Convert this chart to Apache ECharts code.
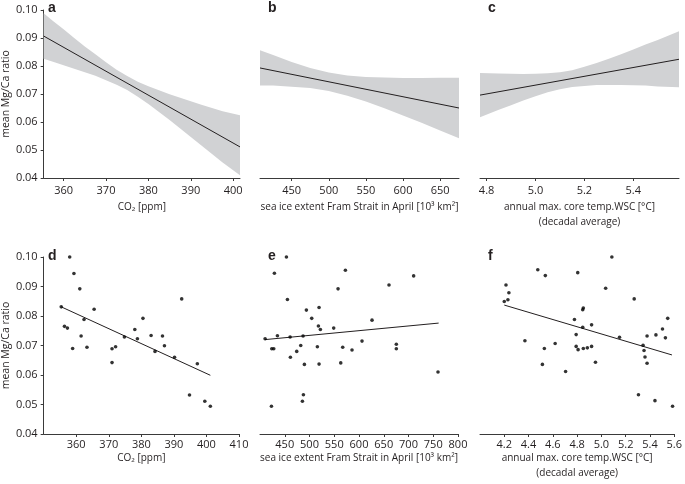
<!DOCTYPE html>
<html><head><meta charset="utf-8">
<script src="https://cdn.jsdelivr.net/npm/echarts@6/dist/echarts.min.js"></script>
<style>html,body{margin:0;padding:0;background:#fff}#c{width:685px;height:484px}</style>
</head><body><div id="c"></div>
<script>
// ---------- data ----------
// panel a: CO2 model fit with confidence band
const aBandX = [355.3, 357.5, 360, 362.5, 365, 367.5, 370, 372.5, 375, 377.5, 380, 382.5, 385, 387.5, 390, 392.5, 395, 397.5, 401.6];
const aBandLo = [0.0826, 0.0815, 0.0803, 0.0790, 0.0778, 0.0765, 0.0749, 0.0733, 0.0714, 0.0690, 0.0664, 0.0636, 0.0607, 0.0577, 0.0546, 0.0516, 0.0486, 0.0455, 0.0410];
const aBandHi = [0.0988, 0.0961, 0.0931, 0.0900, 0.0870, 0.0842, 0.0813, 0.0787, 0.0764, 0.0744, 0.0728, 0.0713, 0.0699, 0.0687, 0.0674, 0.0662, 0.0650, 0.0638, 0.0624];
const aLineX = [355.3, 401.6];
const aLineY = [0.0907, 0.0511];
// panel b: sea ice extent
const bBandX = [407.3, 425, 450, 475, 500, 525, 550, 575, 600, 625, 650, 675.5];
const bBandLo = [0.0730, 0.0730, 0.0726, 0.0721, 0.0711, 0.0694, 0.0673, 0.0649, 0.0623, 0.0597, 0.0570, 0.0542];
const bBandHi = [0.0856, 0.0839, 0.0814, 0.0793, 0.0777, 0.0766, 0.0761, 0.0759, 0.0757, 0.0757, 0.0758, 0.0758];
const bLineX = [407.3, 675.5];
const bLineY = [0.0793, 0.0650];
// panel c: core temperature WSC
const cBandX = [4.773, 4.85, 4.9, 4.95, 5.0, 5.05, 5.1, 5.15, 5.2, 5.25, 5.3, 5.35, 5.4, 5.45, 5.5, 5.587];
const cBandLo = [0.0617, 0.0644, 0.0660, 0.0677, 0.0692, 0.0706, 0.0717, 0.0725, 0.0729, 0.0732, 0.0732, 0.0732, 0.0731, 0.0730, 0.0727, 0.0724];
const cBandHi = [0.0775, 0.0773, 0.0772, 0.0771, 0.0772, 0.0774, 0.0778, 0.0785, 0.0797, 0.0811, 0.0826, 0.0842, 0.0859, 0.0877, 0.0893, 0.0924];
const cLineX = [4.773, 5.587];
const cLineY = [0.0696, 0.0824];
// panel d: scatter vs CO2
const dX = [355.4, 358.0, 359.3, 361.1, 356.4, 357.3, 358.9, 362.4, 361.5, 363.3, 365.5, 371.0, 371.0, 372.1, 374.8, 378.0, 378.8, 380.5, 383.0, 384.2, 386.5, 387.1, 390.2, 392.4, 394.8, 397.2, 399.5, 401.2];
const dY = [0.0831, 0.1000, 0.0944, 0.0892, 0.0765, 0.0759, 0.0690, 0.0788, 0.0732, 0.0694, 0.0823, 0.0642, 0.0689, 0.0696, 0.0729, 0.0754, 0.0723, 0.0792, 0.0734, 0.0680, 0.0732, 0.0699, 0.0660, 0.0858, 0.0532, 0.0638, 0.0511, 0.0494];
const dLineX = [355.4, 401.2];
const dLineY = [0.0831, 0.0599];
// panel e: scatter vs sea ice extent
const eX = [453.4, 429.1, 572.5, 710.4, 660.6, 557.7, 455.4, 493.7, 519.3, 504.5, 626.3, 518.0, 522.0, 548.9, 435.2, 410.3, 460.8, 487.0, 606.1, 482.3, 515.9, 567.1, 675.4, 675.4, 423.8, 427.8, 474.2, 585.9, 461.4, 489.7, 519.3, 563.1, 759.6, 487.7, 485.7, 423.1];
const eY = [0.1000, 0.0945, 0.0955, 0.0936, 0.0905, 0.0892, 0.0856, 0.0820, 0.0829, 0.0792, 0.0786, 0.0766, 0.0754, 0.0759, 0.0733, 0.0723, 0.0729, 0.0732, 0.0715, 0.0700, 0.0696, 0.0694, 0.0704, 0.0689, 0.0689, 0.0689, 0.0680, 0.0685, 0.0660, 0.0636, 0.0637, 0.0641, 0.0610, 0.0533, 0.0511, 0.0494];
const eLineX = [410.3, 760.9];
const eLineY = [0.0720, 0.0776];
// panel f: scatter vs core temperature
const fX = [4.200, 4.214, 4.238, 4.230, 4.476, 4.538, 5.086, 4.805, 5.035, 5.270, 4.851, 4.846, 4.778, 4.846, 4.919, 4.792, 5.149, 4.370, 4.619, 4.530, 4.792, 4.808, 4.851, 4.884, 4.919, 4.514, 4.951, 4.705, 5.376, 5.449, 5.503, 5.546, 5.527, 5.343, 5.351, 5.359, 5.376, 5.305, 5.441, 5.586];
const fY = [0.0849, 0.0905, 0.0879, 0.0855, 0.0957, 0.0937, 0.1000, 0.0947, 0.0894, 0.0858, 0.0827, 0.0821, 0.0788, 0.0762, 0.0770, 0.0737, 0.0728, 0.0716, 0.0707, 0.0690, 0.0697, 0.0686, 0.0690, 0.0692, 0.0697, 0.0636, 0.0643, 0.0612, 0.0732, 0.0736, 0.0756, 0.0792, 0.0726, 0.0701, 0.0683, 0.0661, 0.0640, 0.0533, 0.0513, 0.0494];
const fLineX = [4.200, 5.581];
const fLineY = [0.0837, 0.0668];
// tick labels
const yTicks = [0.04, 0.05, 0.06, 0.07, 0.08, 0.09, 0.10];
const aTicks = [360, 370, 380, 390, 400];
const bTicks = [450, 500, 550, 600, 650];
const cTicks = [4.8, 5.0, 5.2, 5.4];
const dTicks = [360, 370, 380, 390, 400, 410];
const eTicks = [450, 500, 550, 600, 650, 700, 750, 800];
const fTicks = [4.2, 4.4, 4.6, 4.8, 5.0, 5.2, 5.4, 5.6];
const yName = 'mean Mg/Ca ratio';
const co2Name = 'CO\u2082 [ppm]';
const iceName = 'sea ice extent Fram Strait in April [10\u00b3 km\u00b2]';
const tempName = 'annual max. core temp.WSC [\u00b0C]\n(decadal average)';
const letters = ['a', 'b', 'c', 'd', 'e', 'f'];

// ---------- chart ----------
const FONT = "'Open Sans', 'Noto Sans', sans-serif";
const TXT = '#231f20';
const AX = '#3a3a3a';
const BAND = '#d1d2d4';
const zip = (xs, ys) => xs.map((x, i) => [x, ys[i]]);

const grids = [
  {left: 41, top: 10, width: 199, height: 168},
  {left: 260, top: 10, width: 199, height: 168},
  {left: 480, top: 10, width: 199, height: 168},
  {left: 41, top: 257, width: 198, height: 177},
  {left: 260, top: 257, width: 198, height: 177},
  {left: 480, top: 257, width: 198, height: 177}
];
const xr = [
  [355.3, 401.6, aTicks, 0, co2Name],
  [407.3, 675.5, bTicks, 0, iceName],
  [4.773, 5.587, cTicks, 1, tempName],
  [350, 410, dTicks, 0, co2Name],
  [400, 800, eTicks, 0, iceName],
  [4.0, 5.6, fTicks, 1, tempName]
];
const xAxes = xr.map((r, i) => ({
  type: 'value', gridIndex: i, min: r[0], max: r[1],
  name: r[4], nameLocation: 'middle', nameGap: i < 3 ? 22 : 13,
  nameTextStyle: {fontFamily: FONT, fontSize: 10, color: TXT, lineHeight: 15, verticalAlign: 'top'},
  axisLine: {show: true, onZero: false, lineStyle: {color: AX, width: 1}},
  axisTick: {show: true, length: 3, customValues: r[2], lineStyle: {color: AX}},
  axisLabel: {customValues: r[2], margin: i < 3 ? 7 : 5, fontFamily: FONT, fontSize: 11, color: TXT,
    formatter: v => r[3] ? Number(v).toFixed(1) : String(Math.round(v))},
  splitLine: {show: false}
}));
const yAxes = grids.map((g, i) => ({
  type: 'value', gridIndex: i, min: 0.04, max: 0.10,
  show: i === 0 || i === 3,
  name: yName, nameLocation: 'middle', nameGap: 22,
  nameTextStyle: {fontFamily: FONT, fontSize: 10.5, color: TXT},
  axisLine: {show: true, onZero: false, lineStyle: {color: AX, width: 1}},
  axisTick: {show: true, length: 3, customValues: yTicks, lineStyle: {color: AX}},
  axisLabel: {customValues: yTicks, margin: 6, fontFamily: FONT, fontSize: 11, color: TXT,
    formatter: v => Number(v).toFixed(2)},
  splitLine: {show: false}
}));

const series = [];
function band(i, xs, lo, hi) {
  series.push({
    type: 'custom', xAxisIndex: i, yAxisIndex: i, silent: true, z: 1,
    data: xs.map((x, k) => [x, lo[k], hi[k]]),
    encode: {x: 0, y: [1, 2]},
    renderItem: function (params, api) {
      if (params.dataIndex !== 0) return null;
      const top = xs.map((x, k) => api.coord([x, hi[k]]));
      const bot = xs.map((x, k) => api.coord([x, lo[k]])).reverse();
      return {type: 'polygon', shape: {points: top.concat(bot)}, style: {fill: BAND}};
    }
  });
}
function fit(i, xs, ys) {
  series.push({type: 'line', xAxisIndex: i, yAxisIndex: i, data: zip(xs, ys), symbol: 'none',
    lineStyle: {color: TXT, width: 1}, silent: true, z: 3});
}
function dots(i, xs, ys) {
  series.push({type: 'scatter', xAxisIndex: i, yAxisIndex: i, data: zip(xs, ys), symbolSize: 3.6,
    itemStyle: {color: '#000'}, silent: true, z: 4});
}
band(0, aBandX, aBandLo, aBandHi); fit(0, aLineX, aLineY);
band(1, bBandX, bBandLo, bBandHi); fit(1, bLineX, bLineY);
band(2, cBandX, cBandLo, cBandHi); fit(2, cLineX, cLineY);
dots(3, dX, dY); fit(3, dLineX, dLineY);
dots(4, eX, eY); fit(4, eLineX, eLineY);
dots(5, fX, fY); fit(5, fLineX, fLineY);

const letterPos = [[48, 1], [268, 1], [488, 1], [48, 249], [268, 249], [488, 249]];
const graphic = letters.map((t, i) => ({
  type: 'text', left: letterPos[i][0], top: letterPos[i][1],
  style: {text: t, font: "bold 14px 'Liberation Sans', Arial, sans-serif", fill: TXT}
}));

const chart = echarts.init(document.getElementById('c'), null, {renderer: 'canvas'});
chart.setOption({
  animation: false,
  backgroundColor: '#fff',
  grid: grids,
  xAxis: xAxes,
  yAxis: yAxes,
  series: series,
  graphic: graphic
});
</script></body></html>
